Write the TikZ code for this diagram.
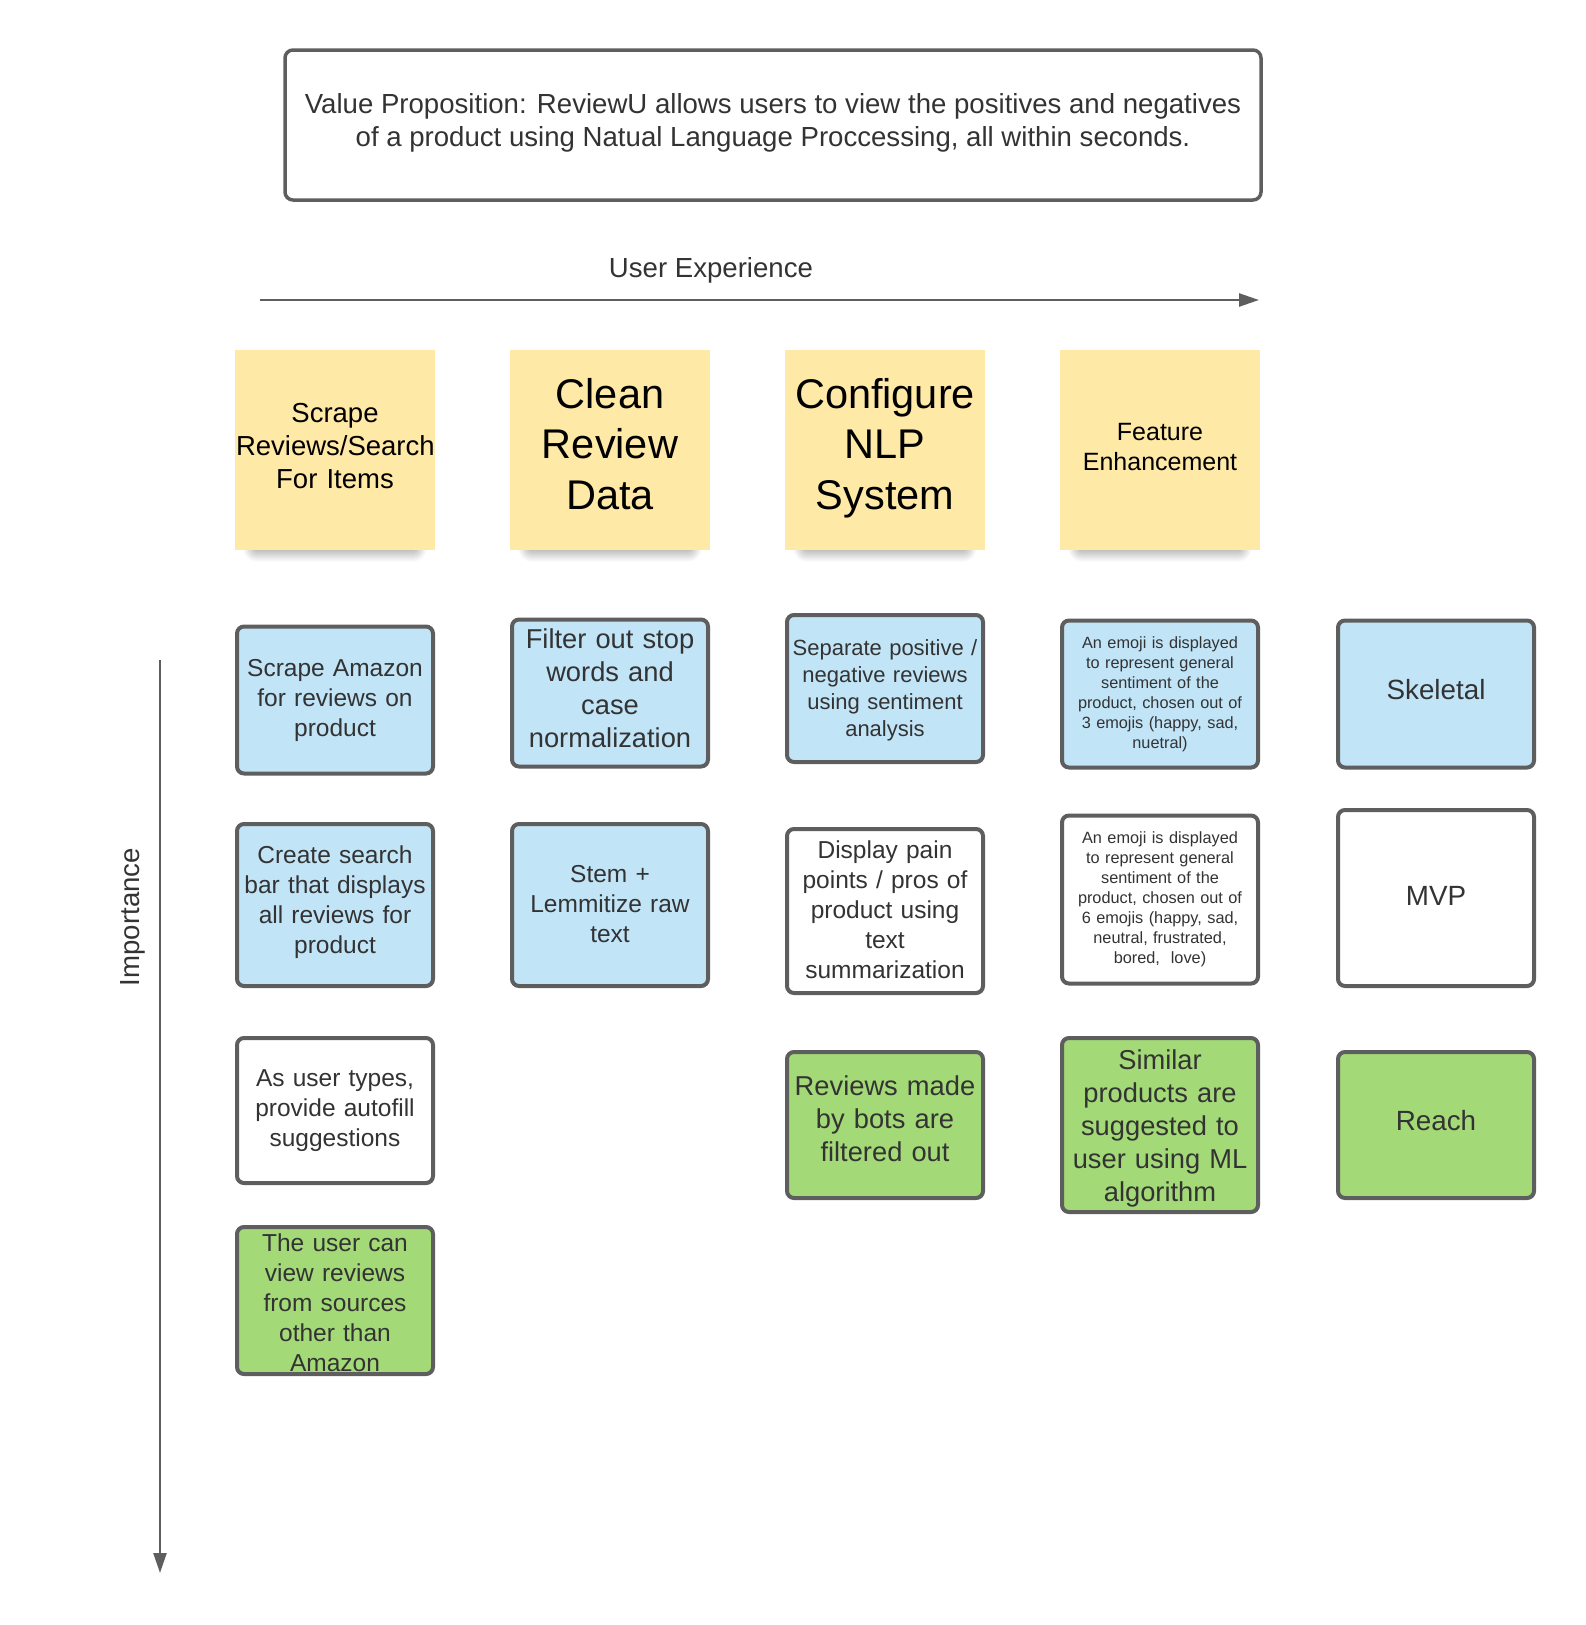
\documentclass[tikz,border=0pt]{standalone}
\usepackage{fontspec}
\setmainfont{Liberation Sans}
\usetikzlibrary{shadows.blur,arrows.meta,backgrounds}
\definecolor{bd}{HTML}{5E5E5E}
\definecolor{txt}{HTML}{333333}
\definecolor{bluef}{HTML}{C1E4F7}
\definecolor{greenf}{HTML}{A3D977}
\definecolor{yel}{HTML}{FFE9A6}
\newcommand\myfs[2]{\fontsize{#1}{#2}\selectfont}
\tikzset{
  cardbox/.style={draw=bd, line width=4pt, rounded corners=7pt, inner sep=0pt, minimum width=196pt},
  cardtext/.style={align=center, text=txt, inner sep=0pt, text width=194pt},
  bluecard/.style={fill=bluef},
  greencard/.style={fill=greenf},
  whitecard/.style={fill=white},
  notebox/.style={fill=yel, inner sep=0pt, minimum width=200pt, minimum height=200pt},
  notetext/.style={align=center, inner sep=0pt, text=black, text width=198pt},
  shd/.style={fill=white, blur shadow={shadow xshift=0pt, shadow yshift=-12pt,
    shadow blur radius=14pt, shadow blur steps=20, shadow opacity=60}},
  axis/.style={draw=bd, line width=2.5pt, -{Triangle[length=20pt,width=13pt]}},
  fA/.style={font=\myfs{24.5}{30}},
  fB/.style={font=\myfs{27.3}{33}},
  fS/.style={font=\myfs{16.3}{20}},
  fC/.style={font=\myfs{27.8}{30}},
}
% #1 fill style, #2 font style, #3 name, #4 x, #5 y, #6 height, #7 text up-shift, #8 text
\newcommand\mkcard[8]{%
  \node[cardbox, #1, minimum height=#6pt] (#3) at (#4,#5) {};
  \node[cardtext, #2] (#3t) at ([yshift=#7pt]#3.center) {#8};
}
% #1 font, #2 name, #3 x, #4 text up-shift, #5 text
\newcommand\mknote[5]{%
  \node[notebox] (#2) at (#3,450) {};
  \node[notetext, font=#1] (#2t) at ([yshift=#4pt]#2.center) {#5};
}
\begin{document}
\begin{tikzpicture}[x=1pt,y=-1pt]
\useasboundingbox (0,0) rectangle (1585,1625);

% value proposition
\node[draw=bd, line width=3.5pt, rounded corners=8pt, minimum width=976pt, minimum height=150pt,
  inner sep=0pt] (vp) at (773,125) {};
\node[align=center, text=txt, inner sep=0pt, font=\myfs{27.6}{33}] (vpt) at ([yshift=2pt]vp.center)
  {Value Proposition: ReviewU allows users to view the positives and negatives\\
   of a product using Natual Language Proccessing, all within seconds.};

% user experience axis
\node[text=txt, font=\myfs{27.6}{30}] (uxl) at (711,270) {User Experience};
\coordinate (uxa) at (260,300);
\coordinate (uxb) at (1259,300);
\draw[axis] (uxa) -- (uxb);

% importance axis
\node[text=txt, rotate=90, font=\myfs{27.6}{30}] (iml) at (133,917) {Importance};
\coordinate (ima) at (160,660);
\coordinate (imb) at (160,1573);
\draw[axis] (ima) -- (imb);

% yellow notes
\mknote{\myfs{27.5}{33}}{h1}{335}{4}{Scrape\\Reviews/Search\\For Items}
\mknote{\myfs{41.5}{50.5}}{h2}{610}{6}{Clean\\Review\\Data}
\mknote{\myfs{41.5}{50.5}}{h3}{885}{2}{Configure\\NLP\\System}
\mknote{\myfs{25}{30.5}}{h4}{1160}{3}{Feature\\Enhancement\\[24pt]}
\begin{scope}[on background layer]
  \foreach \n in {h1,h2,h3,h4}{
    \fill[shd] ([xshift=22pt,yshift=-30pt]\n.north west) rectangle ([xshift=-22pt,yshift=14pt]\n.south east);
  }
\end{scope}

% row 1
\mkcard{bluecard}{fA}{c11}{335}{700}{147}{0}{Scrape Amazon\\for reviews on\\product}
\mkcard{bluecard}{fB}{c12}{610}{693}{147}{5}{Filter out stop\\words and\\case\\normalization}
\mkcard{bluecard}{font=\myfs{22}{27}}{c13}{885}{688.5}{147}{-2}{Separate positive /\\negative reviews\\using sentiment\\analysis}
\mkcard{bluecard}{fS}{c14}{1160}{694}{147}{0}{An emoji is displayed\\to represent general\\sentiment of the\\product, chosen out of\\3 emojis (happy, sad,\\nuetral)}
\mkcard{bluecard}{fC}{c15}{1436}{694}{147}{4}{Skeletal}

% row 2
\mkcard{bluecard}{fA}{c21}{335}{905}{162}{3}{Create search\\bar that displays\\all reviews for\\product}
\mkcard{bluecard}{fA}{c22}{610}{905}{162}{1}{Stem +\\Lemmitize raw\\text}
\mkcard{whitecard}{fA}{c23}{885}{911}{164}{1}{Display pain\\points / pros of\\product using\\text\\summarization}
\mkcard{whitecard}{fS}{c24}{1160}{899.5}{168}{0}{An emoji is displayed\\to represent general\\sentiment of the\\product, chosen out of\\6 emojis (happy, sad,\\neutral, frustrated,\\bored,\ \ love)}
\mkcard{whitecard}{fC}{c25}{1436}{898}{176}{2}{MVP}

% row 3
\mkcard{whitecard}{fA}{c31}{335}{1110.5}{145}{0}{As user types,\\provide autofill\\suggestions}
\mkcard{greencard}{fB}{c33}{885}{1125}{146}{6}{Reviews made\\by bots are\\filtered out}
\mkcard{greencard}{fB}{c34}{1160}{1125}{174}{-3}{Similar\\products are\\suggested to\\user using ML\\algorithm}
\mkcard{greencard}{fC}{c35}{1436}{1125}{146}{4}{Reach}

% row 4
\mkcard{greencard}{fA}{c41}{335}{1300.5}{147}{-2}{The user can\\view reviews\\from sources\\other than\\Amazon}
\end{tikzpicture}
\end{document}
